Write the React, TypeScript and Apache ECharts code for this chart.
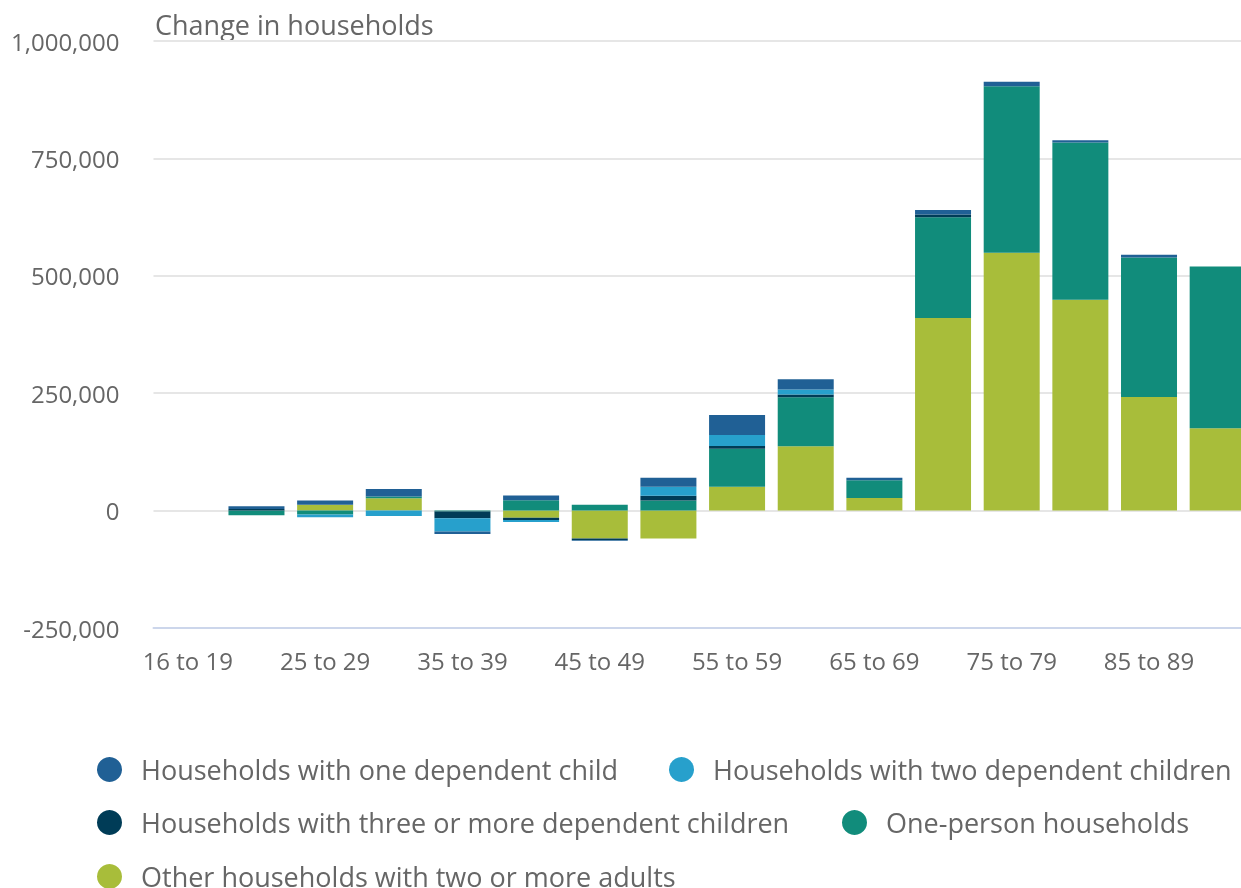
import React, { useEffect, useRef } from "react";
import * as echarts from "echarts";

const categories = [
  "16 to 19", "20 to 24", "25 to 29", "30 to 34", "35 to 39", "40 to 44",
  "45 to 49", "50 to 54", "55 to 59", "60 to 64", "65 to 69", "70 to 74",
  "75 to 79", "80 to 84", "85 to 89", "90 and over",
];

const oneChild = [0, 5500, 9200, 16000, -5000, 10000, -1500, 19200, 42700, 22000, 5000, 10000, 9200, 5000, 5700, 0];
const twoChildren = [0, 0, -5500, -11300, -28400, -4300, 0, 19200, 23500, 10700, 0, 0, 0, 0, 0, 0];
const threeChildren = [0, 3600, 0, 0, -14300, -4900, -3500, 10000, 5600, 5700, 0, 5700, 0, 0, 0, 0];
const onePerson = [0, -10000, -8500, 3600, -2000, 22000, 12200, 21400, 81200, 104700, 37800, 214300, 354700, 334900, 297000, 344700];
const otherAdults = [0, 0, 12500, 26300, 0, -15000, -59200, -59200, 50600, 136800, 27000, 410300, 549200, 448800, 242100, 175200];

const yTicks = { min: -250000, max: 1000000, interval: 250000 };

const seriesDefs = [
  { name: "Other households with two or more adults", data: otherAdults, color: "#a8bd3a" },
  { name: "One-person households", data: onePerson, color: "#118c7b" },
  { name: "Households with three or more dependent children", data: threeChildren, color: "#003c57" },
  { name: "Households with two dependent children", data: twoChildren, color: "#27a0cc" },
  { name: "Households with one dependent child", data: oneChild, color: "#206095" },
];

const legendRows = [
  { name: "Households with one dependent child", left: 84, top: 743 },
  { name: "Households with two dependent children", left: 656, top: 743 },
  { name: "Households with three or more dependent children", left: 84, top: 796 },
  { name: "One-person households", left: 829, top: 796 },
  { name: "Other households with two or more adults", left: 84, top: 850 },
];

const FONT = "'Open Sans', 'Noto Sans', sans-serif";
const TEXT = "#666666";

export default function App() {
  const ref = useRef<HTMLDivElement>(null);
  useEffect(() => {
    if (!ref.current) return;
    const chart = echarts.init(ref.current, undefined, { renderer: "svg" });
    chart.setOption({
      animation: false,
      textStyle: { fontFamily: FONT },
      graphic: [
        {
          type: "text",
          left: 147,
          top: 3,
          style: { text: "Change in households", fontSize: 27, fill: TEXT, fontFamily: FONT },
        },
      ],
      legend: legendRows.map((r) => ({
        data: [r.name],
        left: r.left,
        top: r.top,
        icon: "circle",
        itemWidth: 25,
        itemHeight: 25,
        selectedMode: false,
        textStyle: { fontSize: 27, color: TEXT, fontFamily: FONT, padding: [0, 0, 0, 14] },
      })),
      grid: { left: 145, top: 33, width: 1099, height: 587, containLabel: false },
      xAxis: {
        type: "category",
        data: categories,
        axisLine: { onZero: false, lineStyle: { color: "#ccd6eb", width: 2 } },
        axisTick: { alignWithLabel: true, interval: 1, length: 18, lineStyle: { color: "#ccd6eb", width: 2 } },
        axisLabel: { interval: 1, fontSize: 24, color: TEXT, margin: 20, fontFamily: FONT },
      },
      yAxis: {
        type: "value",
        min: yTicks.min,
        max: yTicks.max,
        interval: yTicks.interval,
        axisLine: { show: false },
        axisTick: { show: false },
        splitLine: { lineStyle: { color: "#e6e6e6", width: 2 } },
        axisLabel: {
          fontSize: 24,
          color: TEXT,
          margin: 34,
          fontFamily: FONT,
          formatter: (v: number) => v.toLocaleString("en-US"),
        },
      },
      series: seriesDefs.map((s) => ({
        name: s.name,
        type: "bar",
        stack: "total",
        data: s.data,
        barWidth: 56,
        itemStyle: { color: s.color },
      })),
    });
    return () => chart.dispose();
  }, []);
  return (
    <div style={{ position: "fixed", left: 8, top: 8, width: 1233, height: 880, overflow: "hidden" }}>
      <div ref={ref} style={{ width: 1260, height: 880 }} />
    </div>
  );
}
